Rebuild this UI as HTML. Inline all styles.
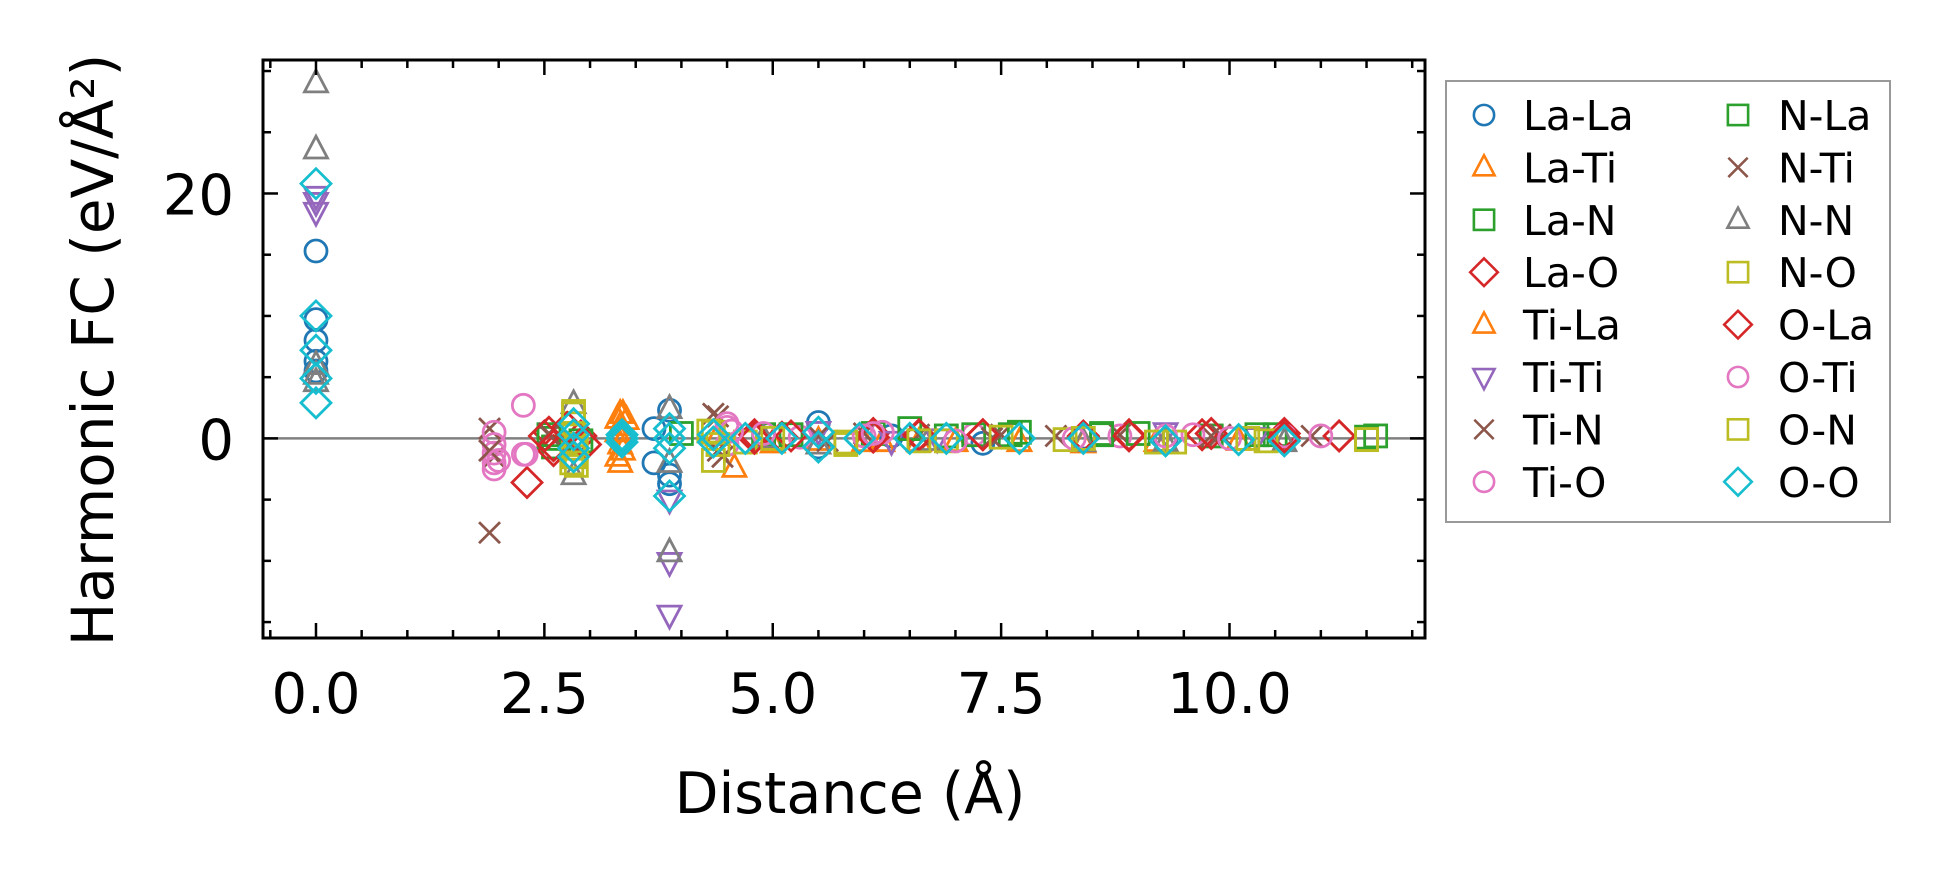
<!DOCTYPE html>
<html><head><meta charset="utf-8"><style>
html,body{margin:0;padding:0;background:#fff;}
svg{display:block;font-family:"DejaVu Sans","Liberation Sans",sans-serif;}
</style></head><body>
<svg id="chart" width="1949" height="883" viewBox="0 0 1949 883" xmlns="http://www.w3.org/2000/svg">
<rect x="0" y="0" width="1949" height="883" fill="#fff"/>
<g id="marks"></g>
<g id="axes"></g>
<text x="850" y="813" font-size="57" text-anchor="middle">Distance (Å)</text>
<text transform="translate(113,350) rotate(-90)" font-size="58" text-anchor="middle">Harmonic FC (eV/Å²)</text>
<g id="legend"></g>
</svg>
<script>
const seriesNames=["La-La","La-Ti","La-N","La-O","Ti-La","Ti-Ti","Ti-N","Ti-O","N-La","N-Ti","N-N","N-O","O-La","O-Ti","O-N","O-O"];
const xTicks=[0,2.5,5,7.5,10];
const xTickLabels=["0.0","2.5","5.0","7.5","10.0"];
const yTicks=[0,20];
const yTickLabels=["0","20"];
const xLaLa=[0,0,0,0,0,3.7,3.7,3.87,3.87,3.87,5.5,5.5,6.3,7.3,8.4,9.3,10.6];
const yLaLa=[15.3,9.7,8.0,6.3,5.5,0.8,-2.0,2.3,-3.7,-3.0,1.3,-0.7,0.2,-0.4,0.1,-0.2,0.3];
const xLaTi=[3.33,3.33,3.33,3.33,3.4,4.58,5.0,6.0,6.6,7.7,8.4,9.3,10.1];
const yLaTi=[2.0,1.0,-0.5,-2.0,1.5,-2.4,-0.4,-0.3,-0.3,-0.3,-0.3,-0.3,-0.2];
const xLaN=[2.55,2.6,4.9,6.1,6.9,7.6,8.6,9.8,10.5,11.5];
const yLaN=[0,-0.7,0.3,0.4,0.2,0.3,0.4,0.2,0.3,0.1];
const xLaO=[2.31,2.55,2.6,2.9,4.8,5.1,6.1,6.6,7.3,8.4,8.9,9.7,10.6,11.2];
const yLaO=[-3.6,0.5,-1.0,0.2,0.3,0.1,0.4,0.2,0.3,0.2,0.3,0.3,0.4,0.2];
const xTiLa=[3.3,3.3,3.3,3.36,3.36,4.4,5.5,6.2,7.0,8.4,9.2];
const yTiLa=[1.6,0.5,-1.5,-1.0,2.0,0.2,-0.2,-0.3,-0.3,-0.4,-0.3];
const xTiTi=[0,0,0,3.87,3.87,3.87,5.5,6.3,6.8,9.3,10.3];
const yTiTi=[19.8,19.3,18.5,-5.0,-10.1,-14.4,0.6,-0.2,0.0,0.5,0.1];
const xTiN=[1.9,1.95,2.55,2.8,4.4,4.45,5.5,6.6,7.5,8.8,9.8,10.9];
const yTiN=[0.8,-1.5,0.3,-0.4,1.8,-1.5,0.2,0.3,0.3,0.3,0.2,0.2];
const xTiO=[1.95,1.95,1.95,1.95,1.95,2.27,2.27,4.5,4.5,5.3,6.2,7.2,8.8,9.6,10.6];
const yTiO=[0.5,-0.5,-1.2,-2.0,-2.5,2.7,-1.3,0.9,-0.5,0.1,0.5,0.3,0.2,0.3,0.2];
const xNLa=[2.55,2.9,4.0,5.2,6.5,7.2,7.7,8.6,9.0,10.3,11.6];
const yNLa=[0.3,-0.2,0.4,0.3,0.8,0.3,0.5,0.3,0.4,0.3,0.2];
const xNTi=[1.9,1.9,2.55,4.35,4.4,5.6,6.0,7.4,8.1,9.9];
const yNTi=[-7.7,-1.0,0.4,2.0,-1.0,-0.2,0.4,0.0,0.2,0.3];
const xNN=[0,0,0,0,0,2.82,2.82,3.87,3.87,3.87,4.9,5.5,6.7,8.4,9.3,10.6];
const yNN=[29.0,23.6,6.0,5.2,4.6,2.8,-3.0,2.4,-2.0,-9.3,0.0,-0.5,-0.2,-0.3,-0.3,-0.3];
const xNO=[2.82,2.82,2.82,2.82,2.85,4.35,4.35,4.7,5.8,6.9,8.2,9.4,10.4,11.5];
const yNO=[2.0,1.2,-0.5,-1.5,-2.2,0.5,-1.8,-0.3,-0.5,-0.2,-0.1,-0.3,-0.2,-0.1];
const xOLa=[2.5,2.6,2.75,2.95,4.8,5.2,6.1,6.6,7.3,8.4,8.9,9.8,10.6,11.2];
const yOLa=[0.2,-0.6,0.9,-0.5,0.0,0.2,0.1,0.3,0.3,0.1,0.2,0.4,0.1,0.2];
const xOTi=[2.0,2.3,4.5,4.55,4.9,6.1,6.0,7.0,8.3,9.3,10.0,11.0];
const yOTi=[-1.8,-1.3,1.2,0.6,0.4,0.4,0.2,-0.2,0.0,0.2,0.0,0.2];
const xON=[2.82,2.85,2.8,4.3,4.4,5.0,5.8,6.6,7.5,8.4,9.2,10.2,11.5];
const yON=[2.2,-0.8,-2.0,0.6,-0.5,0.0,-0.3,-0.2,0.1,0.0,-0.3,0.0,-0.1];
const xOO=[0,0,0,0,0,2.82,2.82,2.82,2.82,3.35,3.35,3.35,3.87,3.87,3.87,3.87,4.35,4.35,4.7,5.1,5.5,5.5,5.95,6.5,6.9,7.7,8.4,9.3,10.1,10.6];
const yOO=[20.8,10.0,7.2,4.9,2.9,1.2,0.3,-0.8,-1.5,0.3,-0.3,0.0,0.8,0.0,-0.8,-4.7,0.3,-0.3,0.0,0.0,0.5,-0.7,0.0,0.0,0.0,0.0,0.0,-0.2,-0.1,-0.2];

const xData=[xLaLa,xLaTi,xLaN,xLaO,xTiLa,xTiTi,xTiN,xTiO,xNLa,xNTi,xNN,xNO,xOLa,xOTi,xON,xOO];
const yData=[yLaLa,yLaTi,yLaN,yLaO,yTiLa,yTiTi,yTiN,yTiO,yNLa,yNTi,yNN,yNO,yOLa,yOTi,yON,yOO];
const colors=["#1f77b4","#ff7f0e","#2ca02c","#d62728","#ff7f0e","#9467bd","#8c564b","#e377c2","#2ca02c","#8c564b","#7f7f7f","#bcbd22","#d62728","#e377c2","#bcbd22","#17becf"];
const shapes=["o","^","s","D","^","v","x","o","s","x","^","s","D","o","s","D"];

const L=263,R=1425,T=60,B=638;
const xmin=-0.58,xmax=12.14,ymin=-16.3,ymax=30.9;
function sx(v){return L+(v-xmin)/(xmax-xmin)*(R-L);}
function sy(v){return B-(v-ymin)/(ymax-ymin)*(B-T);}
const NS="http://www.w3.org/2000/svg";
function mk(tag,attrs,parent){const e=document.createElementNS(NS,tag);for(const k in attrs)e.setAttribute(k,attrs[k]);parent.appendChild(e);return e;}

function marker(shape,cx,cy,color,parent,s,sw){
  let e;sw=sw||2.8;
  if(shape==="o"){e=mk("circle",{cx:cx,cy:cy,r:11*s,fill:"none",stroke:color,"stroke-width":sw},parent);}
  else if(shape==="s"){const h=11*s;e=mk("rect",{x:cx-h,y:cy-h,width:2*h,height:2*h,fill:"none",stroke:color,"stroke-width":sw},parent);}
  else if(shape==="D"){const h=15*s;e=mk("polygon",{points:`${cx},${cy-h} ${cx+h},${cy} ${cx},${cy+h} ${cx-h},${cy}`,fill:"none",stroke:color,"stroke-width":sw},parent);}
  else if(shape==="^"){const h=11.5*s;e=mk("polygon",{points:`${cx},${cy-h*1.15} ${cx+h},${cy+h*0.75} ${cx-h},${cy+h*0.75}`,fill:"none",stroke:color,"stroke-width":sw},parent);}
  else if(shape==="v"){const h=11.5*s;e=mk("polygon",{points:`${cx},${cy+h*1.15} ${cx+h},${cy-h*0.75} ${cx-h},${cy-h*0.75}`,fill:"none",stroke:color,"stroke-width":sw},parent);}
  else {const h=10.5*s;e=mk("path",{d:`M${cx-h},${cy-h}L${cx+h},${cy+h}M${cx-h},${cy+h}L${cx+h},${cy-h}`,fill:"none",stroke:color,"stroke-width":sw},parent);}
  return e;
}

const marks=document.getElementById("marks");
const zl=mk("line",{x1:L,x2:R,y1:sy(0),y2:sy(0),stroke:"#808080","stroke-width":2.5},marks);


for(let i=0;i<seriesNames.length;i++){
  const g=mk("g",{},marks);
  
  
  for(let j=0;j<xData[i].length;j++){
    const m=marker(shapes[i],sx(xData[i][j]),sy(yData[i][j]),colors[i],g,1);
    
    
  }
}

const axes=document.getElementById("axes");
const frame=mk("rect",{x:L,y:T,width:R-L,height:B-T,fill:"none",stroke:"#000","stroke-width":3},axes);


for(let v=-0.5;v<=12.01;v+=0.5){
  const major=Math.abs(v/2.5-Math.round(v/2.5))<1e-6;
  const len=major?15:8;const x=sx(v);
  if(x<L||x>R)continue;
  mk("line",{x1:x,x2:x,y1:B,y2:B-len,stroke:"#000","stroke-width":2.5},axes);
  mk("line",{x1:x,x2:x,y1:T,y2:T+len,stroke:"#000","stroke-width":2.5},axes);
}
for(let v=-15;v<=30;v+=5){
  const major=v%20===0;const len=major?15:8;const y=sy(v);
  mk("line",{x1:L,x2:L+len,y1:y,y2:y,stroke:"#000","stroke-width":2.5},axes);
  mk("line",{x1:R,x2:R-len,y1:y,y2:y,stroke:"#000","stroke-width":2.5},axes);
}
for(let i=0;i<xTicks.length;i++){
  const t=mk("text",{x:sx(xTicks[i]),y:713,"font-size":56,"text-anchor":"middle"},axes);
  t.textContent=xTickLabels[i];
  
  
}
for(let i=0;i<yTicks.length;i++){
  const t=mk("text",{x:234,y:sy(yTicks[i])+21,"font-size":56,"text-anchor":"end"},axes);
  t.textContent=yTickLabels[i];
  
  
}

const leg=document.getElementById("legend");
const lb=mk("rect",{x:1446,y:81,width:444,height:441,fill:"#fff",stroke:"#999","stroke-width":2},leg);


for(let i=0;i<seriesNames.length;i++){
  const col=Math.floor(i/8),row=i%8;
  const cy=115+row*52.4;
  const mx=col?1738:1484, tx=col?1778:1523;
  const g=mk("g",{},leg);
  
  
  marker(shapes[i],mx,cy,colors[i],g,0.92,2.6);
  const t=mk("text",{x:tx,y:cy+15,"font-size":41},g);
  t.textContent=seriesNames[i];
}
</script>
</body></html>
